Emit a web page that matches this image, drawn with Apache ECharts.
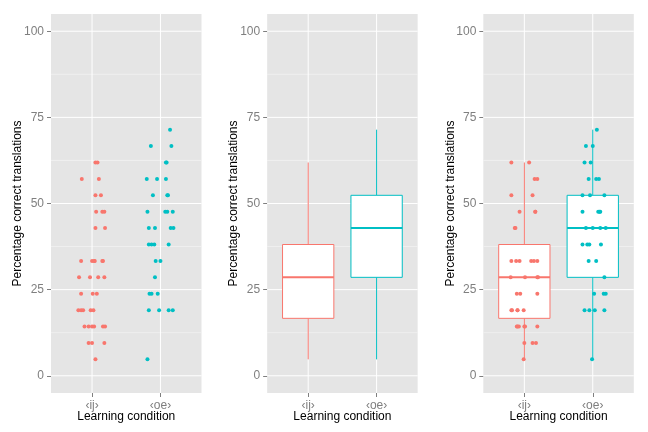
<!DOCTYPE html>
<html><head><meta charset="utf-8">
<script src="https://cdn.jsdelivr.net/npm/echarts@6/dist/echarts.min.js"></script>
<style>html,body{margin:0;padding:0;background:#fff}#c{width:648px;height:432px}</style>
</head><body><div id="c"></div>
<script>
// ---- data ----
const categories = ['‹ij›', '‹oe›'];
const yTicks = [0, 25, 50, 75, 100];
const yMinorTicks = [12.5, 37.5, 62.5, 87.5];

const ijValues = [61.9,61.9, 57.14,57.14, 52.38,52.38, 47.62,47.62,47.62, 42.86,42.86,
  33.33,33.33,33.33,33.33,33.33,33.33, 28.57,28.57,28.57,28.57, 23.81,23.81,23.81,
  19.05,19.05,19.05,19.05,19.05, 14.29,14.29,14.29,14.29,14.29,14.29, 9.52,9.52,9.52, 4.76];
// horizontal jitter (category units) seen in the left panel
const ijJitterA = [0.05,0.08, -0.15,0.10, 0.05,0.13, 0.06,0.15,0.18, 0.05,0.19,
  -0.16,0.00,0.04,0.15,0.16,0.03, -0.19,-0.03,0.09,0.18, -0.16,0.01,0.07,
  -0.20,-0.16,-0.13,-0.02,0.02, -0.11,-0.05,0.00,0.03,0.16,0.19, -0.05,0.00,0.18, 0.05];
// horizontal jitter seen in the right panel
const ijJitterC = [-0.19,0.07, 0.15,0.19, -0.19,0.12, -0.07,0.16,0.16, -0.14,-0.13,
  -0.19,-0.12,-0.07,0.10,0.14,0.19, -0.20,0.01,0.20,0.19, -0.11,-0.06,0.19,
  -0.19,-0.10,-0.01,-0.10,-0.18, -0.11,-0.08,0.00,0.19,-0.10,0.01, 0.00,0.12,0.17, -0.01];

const oeValues = [71.43, 66.67,66.67, 61.9,61.9, 57.14,57.14,57.14, 52.38,52.38,52.38,
  47.62,47.62,47.62,47.62, 42.86,42.86,42.86,42.86, 38.1,38.1,38.1,38.1, 33.33,33.33,
  28.57, 23.81,23.81,23.81, 19.05,19.05,19.05,19.05, 4.76];
const oeJitterA = [0.14, -0.14,0.16, 0.08,0.09, -0.20,-0.05,0.08, -0.11,0.11,0.10,
  -0.19,0.07,0.10,0.18, -0.17,-0.08,0.15,0.19, -0.17,-0.13,-0.09,0.12, -0.07,0.00,
  -0.08, -0.16,-0.13,-0.04, -0.17,-0.02,0.12,0.18, -0.19];
const oeJitterC = [0.06, -0.10,0.00, -0.12,-0.03, -0.06,0.05,0.09, -0.15,-0.04,0.17,
  -0.15,0.08,0.10,0.11, -0.10,0.11,0.19,0.00, -0.15,-0.08,-0.05,0.12, -0.06,0.05,
  0.17, 0.02,0.16,0.19, -0.12,-0.05,0.03,0.17, -0.01];

// boxplot statistics: [lower whisker, Q1, median, Q3, upper whisker]
const ijBox = [4.76, 16.67, 28.57, 38.1, 61.9];
const oeBox = [4.76, 28.57, 42.86, 52.38, 71.43];

// ---- style ----
const COLORS = ['#F8766D', '#00BFC4'];
const FONT = 'Liberation Sans, Arial, Helvetica, DejaVu Sans, sans-serif';
const BOX_WIDTH = 0.75;
const PANEL_LEFT = [51, 267.15, 483.3];
const PANEL_W = 150.5;

const chart = echarts.init(document.getElementById('c'), null, {renderer: 'canvas'});

const grids = PANEL_LEFT.map(l => ({left: l, width: PANEL_W, top: 14, bottom: 39,
  show: true, backgroundColor: '#E5E5E5', borderWidth: 0, containLabel: false,
  outerBoundsMode: 'none'}));

const xAxes = PANEL_LEFT.map((l, g) => ({
  type: 'value', gridIndex: g, min: -0.6, max: 1.6, position: 'bottom',
  axisLine: {show: false, onZero: false}, splitLine: {show: false},
  axisTick: {show: true, length: 4, customValues: [0, 1], lineStyle: {color: '#7F7F7F', width: 1}},
  axisLabel: {customValues: [0, 1], formatter: v => categories[Math.round(v)], color: '#7F7F7F',
    fontSize: 12, fontFamily: FONT, margin: 7},
  name: 'Learning condition', nameLocation: 'middle', nameGap: 18, nameMoveOverlap: false,
  nameTextStyle: {color: '#000', fontSize: 12, fontFamily: FONT}
}));

const yAxes = PANEL_LEFT.map((l, g) => ({
  type: 'value', gridIndex: g, min: -5, max: 105, position: 'left',
  axisLine: {show: false, onZero: false}, splitLine: {show: false},
  axisTick: {show: true, length: 4, customValues: yTicks, lineStyle: {color: '#7F7F7F', width: 1}},
  axisLabel: {customValues: yTicks, color: '#7F7F7F', fontSize: 12, fontFamily: FONT, margin: 7},
  name: 'Percentage correct translations', nameLocation: 'middle', nameGap: 27, nameRotate: 90,
  nameMoveOverlap: false,
  nameTextStyle: {color: '#000', fontSize: 12, fontFamily: FONT}
}));

function hLines(g, vals, color, width) {
  return {
    type: 'custom', xAxisIndex: g, yAxisIndex: g, silent: true, z: 1, clip: false,
    data: vals.map(v => [0, v]),
    renderItem: (params, api) => {
      const cs = params.coordSys;
      const y = api.coord([0, api.value(1)])[1];
      return {type: 'line', shape: {x1: cs.x, y1: y, x2: cs.x + cs.width, y2: y},
        style: {stroke: color, lineWidth: width}};
    }
  };
}
function vLines(g) {
  return {
    type: 'custom', xAxisIndex: g, yAxisIndex: g, silent: true, z: 1, clip: false,
    data: categories.map((c, i) => [i, 0]),
    renderItem: (params, api) => {
      const cs = params.coordSys;
      const x = api.coord([api.value(0), 0])[0];
      return {type: 'line', shape: {x1: x, y1: cs.y, x2: x, y2: cs.y + cs.height},
        style: {stroke: '#FFFFFF', lineWidth: 1}};
    }
  };
}
function boxes(g) {
  return {
    type: 'custom', xAxisIndex: g, yAxisIndex: g, silent: true, z: 3,
    data: [[0].concat(ijBox), [1].concat(oeBox)],
    encode: {x: 0, y: [1, 2, 3, 4, 5]},
    renderItem: (params, api) => {
      const i = api.value(0);
      const x = api.coord([i, 0])[0];
      const yy = [1, 2, 3, 4, 5].map(k => api.coord([i, api.value(k)])[1]);
      const hw = api.size([BOX_WIDTH, 0])[0] / 2;
      const col = COLORS[i];
      const ls = {stroke: col, lineWidth: 1};
      return {type: 'group', children: [
        {type: 'line', shape: {x1: x, y1: yy[4], x2: x, y2: yy[3]}, style: ls},
        {type: 'line', shape: {x1: x, y1: yy[1], x2: x, y2: yy[0]}, style: ls},
        {type: 'rect', shape: {x: x - hw, y: yy[3], width: 2 * hw, height: yy[1] - yy[3]},
          style: {fill: '#FFFFFF', stroke: col, lineWidth: 1}},
        {type: 'line', shape: {x1: x - hw, y1: yy[2], x2: x + hw, y2: yy[2]},
          style: {stroke: col, lineWidth: 2}}
      ]};
    }
  };
}
function points(g, vals, jit, idx) {
  return {
    type: 'scatter', xAxisIndex: g, yAxisIndex: g, z: 4, silent: true,
    symbol: 'circle', symbolSize: 4,
    itemStyle: {color: COLORS[idx], opacity: 1},
    data: vals.map((v, i) => [idx + jit[i], v])
  };
}

const series = [];
for (let g = 0; g < 3; g++) {
  series.push(hLines(g, yMinorTicks, '#F2F2F2', 0.8));
  series.push(hLines(g, yTicks, '#FFFFFF', 1));
  series.push(vLines(g));
}
series.push(points(0, ijValues, ijJitterA, 0));
series.push(points(0, oeValues, oeJitterA, 1));
series.push(boxes(1));
series.push(boxes(2));
series.push(points(2, ijValues, ijJitterC, 0));
series.push(points(2, oeValues, oeJitterC, 1));

chart.setOption({
  animation: false,
  backgroundColor: '#FFFFFF',
  textStyle: {fontFamily: FONT},
  grid: grids, xAxis: xAxes, yAxis: yAxes, series: series
});
</script></body></html>
